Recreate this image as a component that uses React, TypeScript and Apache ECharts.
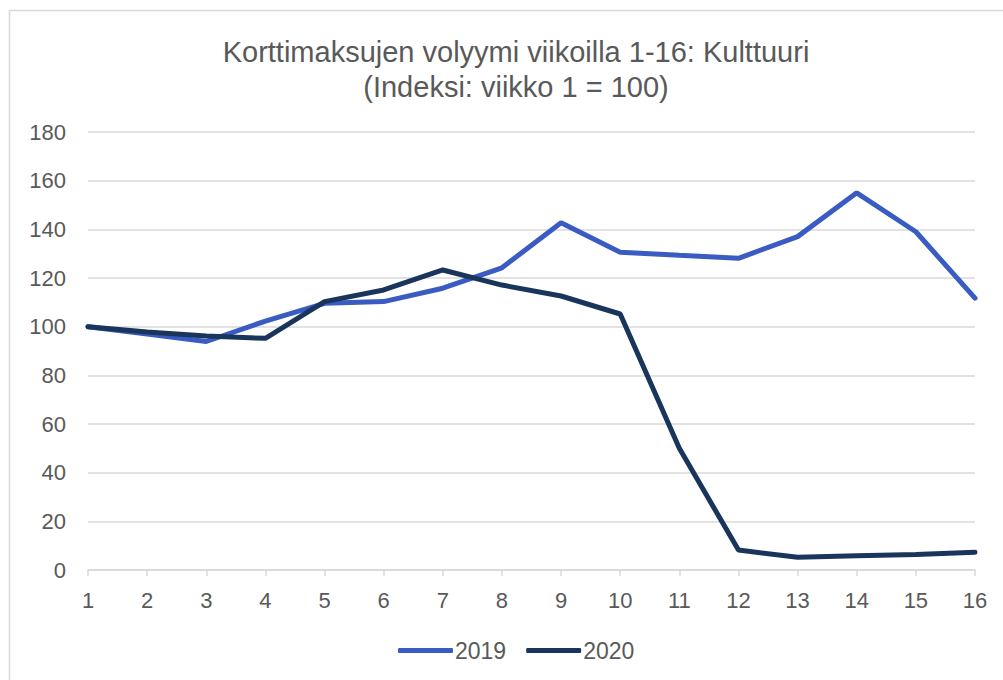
import React, { useEffect, useRef } from "react";
import * as echarts from "echarts";

const weeks = ["1", "2", "3", "4", "5", "6", "7", "8", "9", "10", "11", "12", "13", "14", "15", "16"];
const values2019 = [100, 97, 93.9, 102.3, 109.6, 110.3, 115.8, 124.2, 142.7, 130.6, 129.3, 128.1, 137, 155, 139, 111.7];
const values2020 = [100, 97.8, 96.2, 95.2, 110.3, 115.1, 123.3, 117.1, 112.6, 105.2, 50, 8.2, 5.2, 5.9, 6.4, 7.3];
const titleLines = ["Korttimaksujen volyymi viikoilla 1-16: Kulttuuri", "(Indeksi: viikko 1 = 100)"];

export default function App() {
  const ref = useRef<HTMLDivElement>(null);
  useEffect(() => {
    if (!ref.current) return;
    const chart = echarts.init(ref.current, undefined, { renderer: "svg" });
    const font = "Liberation Sans, Arial, sans-serif";
    chart.setOption({
      animation: false,
      backgroundColor: "#ffffff",
      textStyle: { fontFamily: font },
      graphic: [
        {
          type: "rect",
          shape: { x: 9.5, y: 10.5, width: 1100, height: 800 },
          style: { fill: "none", stroke: "#d9d9d9", lineWidth: 1.5 },
          silent: true,
        },
      ],
      title: {
        text: titleLines.join("\n"),
        left: 511,
        textAlign: "center",
        top: 29,
        textStyle: { fontFamily: font, fontSize: 29, fontWeight: "normal", color: "#595959", lineHeight: 35 },
      },
      legend: {
        top: 634,
        left: 393,
        itemWidth: 55,
        itemHeight: 5,
        itemGap: 20,
        icon: "roundRect",
        textStyle: { fontFamily: font, fontSize: 23, color: "#595959", padding: [0, 0, 0, -3] },
        data: ["2019", "2020"],
      },
      grid: { left: 88, right: 28, top: 132, bottom: 110, containLabel: false },
      xAxis: {
        type: "category",
        data: weeks,
        boundaryGap: false,
        axisLine: { lineStyle: { color: "#d9d9d9", width: 1.5 } },
        axisTick: { show: true, length: 6, lineStyle: { color: "#d9d9d9", width: 1.5 } },
        axisLabel: { color: "#595959", fontSize: 22, fontFamily: font, margin: 19 },
      },
      yAxis: {
        type: "value",
        min: 0,
        max: 180,
        interval: 20,
        axisLine: { show: false },
        axisTick: { show: false },
        splitLine: { lineStyle: { color: "#d9d9d9", width: 1.5 } },
        axisLabel: { color: "#595959", fontSize: 22, fontFamily: font, margin: 22 },
      },
      series: [
        {
          name: "2019",
          type: "line",
          data: values2019,
          symbol: "none",
          itemStyle: { color: "#3a5bc2" },
          lineStyle: { color: "#3a5bc2", width: 5, cap: "round" },
        },
        {
          name: "2020",
          type: "line",
          data: values2020,
          symbol: "none",
          itemStyle: { color: "#1a355c" },
          lineStyle: { color: "#1a355c", width: 5, cap: "round" },
        },
      ],
    });
    return () => chart.dispose();
  }, []);
  return <div ref={ref} style={{ position: "fixed", left: 0, top: 0, width: 1003, height: 680 }} />;
}
